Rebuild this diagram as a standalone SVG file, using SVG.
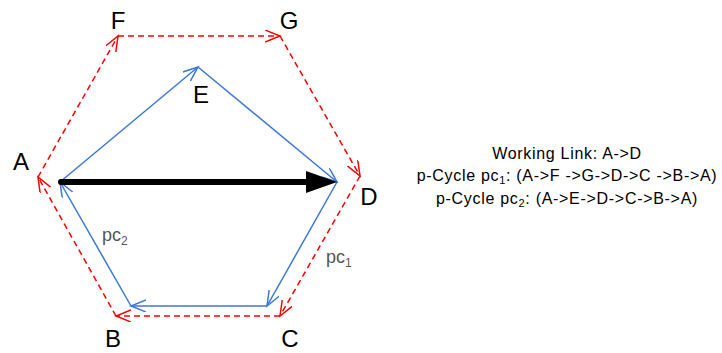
<svg xmlns="http://www.w3.org/2000/svg" width="722" height="353" viewBox="0 0 722 353">
<defs>
<style>
.red{fill:none;stroke:#ff0000;stroke-width:1.5;stroke-dasharray:6,4;marker-end:url(#ar)}
.blue{fill:none;stroke:#3b78d6;stroke-width:1.5;marker-end:url(#ab)}
.lbl{font-family:"Liberation Sans",Arial,sans-serif;font-size:24px;fill:#000;text-anchor:middle}
.pc{font-family:"Liberation Sans",Arial,sans-serif;font-size:18px;fill:#555}
.info{font-family:"Liberation Sans",Arial,sans-serif;font-size:16px;letter-spacing:0.7px;fill:#000;text-anchor:middle}
</style>
<marker id="ar" markerUnits="userSpaceOnUse" markerWidth="20" markerHeight="14" refX="15" refY="6" orient="auto" viewBox="0 0 20 14">
<path d="M0,0 L15,6 L0,12" fill="none" stroke="#ff0000" stroke-width="1.5"/>
</marker>
<marker id="ab" markerUnits="userSpaceOnUse" markerWidth="20" markerHeight="14" refX="15" refY="6" orient="auto" viewBox="0 0 20 14">
<path d="M0,0 L15,6 L0,12" fill="none" stroke="#3b78d6" stroke-width="1.5"/>
</marker>
</defs>
<rect width="722" height="353" fill="#fff"/>
<g id="connectors">
<line class="red" x1="38" y1="177" x2="118" y2="36"/>
<line class="red" x1="118" y1="36" x2="280" y2="36"/>
<line class="red" x1="280" y1="36" x2="360" y2="176"/>
<line class="red" x1="360" y1="176" x2="280" y2="316"/>
<line class="red" x1="280" y1="316" x2="116" y2="316"/>
<line class="red" x1="116" y1="316" x2="38" y2="177"/>
<line class="blue" x1="60" y1="182" x2="198" y2="67"/>
<line class="blue" x1="198" y1="67" x2="337" y2="182"/>
<line class="blue" x1="337" y1="182" x2="267" y2="306"/>
<line class="blue" x1="267" y1="306" x2="131" y2="306"/>
<line class="blue" x1="131" y1="306" x2="60" y2="182"/>
<g id="working-link">
<line x1="60" y1="182" x2="310" y2="182" stroke="#000" stroke-width="6"/>
<polygon points="306,171 337,182 306,193" fill="#000"/>
<circle cx="61" cy="182" r="3" fill="#000"/>
</g>
</g>
<g id="node-A"><text class="lbl" x="21" y="170">A</text></g>
<g id="node-F"><text class="lbl" x="118" y="29">F</text></g>
<g id="node-G"><text class="lbl" x="289" y="29">G</text></g>
<g id="node-E"><text class="lbl" x="201" y="103">E</text></g>
<g id="node-D"><text class="lbl" x="369" y="205">D</text></g>
<g id="node-C"><text class="lbl" x="290" y="347">C</text></g>
<g id="node-B"><text class="lbl" x="113" y="347">B</text></g>
<g id="labels">
<text class="pc" x="102" y="241">pc<tspan font-size="12" dy="4">2</tspan></text>
<text class="pc" x="326" y="263">pc<tspan font-size="12" dy="4">1</tspan></text>
<text class="info" x="567" y="159">Working Link: A-&gt;D</text>
<text class="info" x="567" y="181">p-Cycle pc<tspan font-size="11" dy="3">1</tspan><tspan dy="-3">: (A-&gt;F -&gt;G-&gt;D-&gt;C -&gt;B-&gt;A)</tspan></text>
<text class="info" x="567" y="204">p-Cycle pc<tspan font-size="11" dy="3">2</tspan><tspan dy="-3">: (A-&gt;E-&gt;D-&gt;C-&gt;B-&gt;A)</tspan></text>
</g>
</svg>
